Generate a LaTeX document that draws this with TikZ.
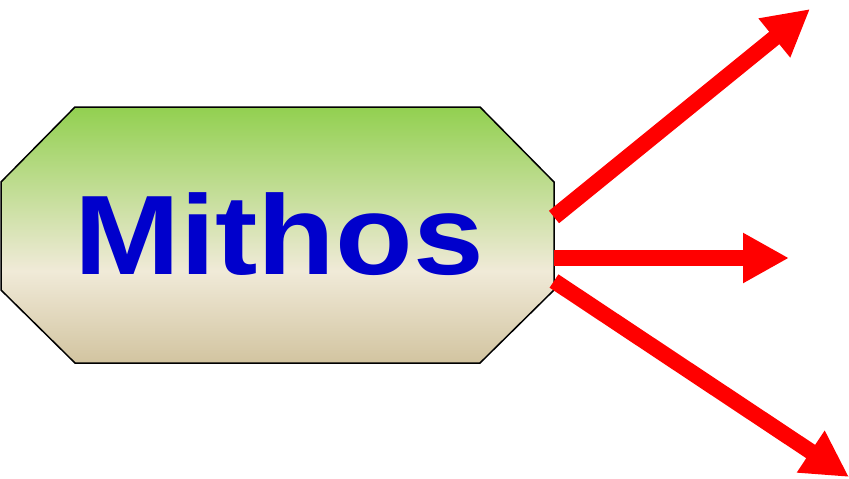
\documentclass[tikz,border=0pt]{standalone}
\usepackage{fontspec}
\setmainfont{Liberation Sans}
\usetikzlibrary{arrows.meta}
\definecolor{topgreen}{RGB}{146,208,80}
\definecolor{midcream}{RGB}{240,234,216}
\definecolor{bottan}{RGB}{210,196,160}
\definecolor{textblue}{RGB}{0,0,204}
\definecolor{arrred}{RGB}{255,0,0}
\pgfdeclareverticalshading{octshade}{100bp}{color(0bp)=(bottan); color(25bp)=(bottan); color(43bp)=(midcream); color(75bp)=(topgreen); color(100bp)=(topgreen)}
\begin{document}
\begin{tikzpicture}[x=1pt,y=-1pt,
  octbox/.style={draw=black,line width=1.5pt,shading=octshade},
  redarrow/.style={draw=arrred,line width=16pt,line cap=butt,-{Triangle[length=46pt,width=47pt]}},
  title/.style={font=\fontsize{113}{120}\selectfont\bfseries,text=textblue,inner sep=0pt}]
\useasboundingbox (0,0) rectangle (849,479);
\path[octbox] (75,107) -- (480,107) -- (554,182) -- (554,290) -- (480,363) -- (75,363) -- (1,290) -- (1,182) -- cycle;
\node[title,anchor=base,xscale=1.125] (mithos) at (279,274) {Mithos};
\coordinate (s1) at (554,217);
\coordinate (e1) at (810,9);
\coordinate (s2) at (554,258);
\coordinate (e2) at (789,258);
\coordinate (s3) at (554,281);
\coordinate (e3) at (849,477);
\draw[redarrow] (s1) -- (e1);
\draw[redarrow] (s2) -- (e2);
\draw[redarrow] (s3) -- (e3);
\end{tikzpicture}
\end{document}
